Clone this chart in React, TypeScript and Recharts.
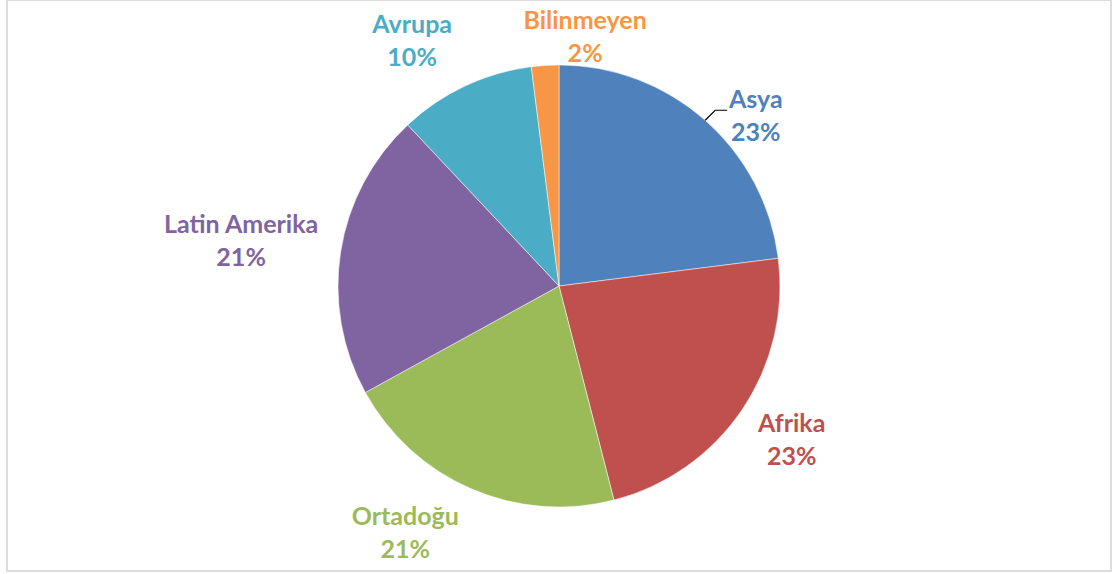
import React from 'react';
import { PieChart, Pie, Cell } from 'recharts';

const regions = ['Asya', 'Afrika', 'Ortadoğu', 'Latin Amerika', 'Avrupa', 'Bilinmeyen'];
const shares = [23, 23, 21, 21, 10, 2];
const colors = ['#4F81BD', '#C0504D', '#9BBB59', '#8064A2', '#4BACC6', '#F79646'];

// label placement, Excel style "best fit": distance from centre + angle nudge
const labelRadius = [260, 279, 291, 321, 286, 250];
const labelShift = [-7.8, 0.7, -8.5, 1, 5.7, -9.6];

const data = regions.map((name, i) => ({ name, value: shares[i] }));

const RAD = Math.PI / 180;

const renderLabel = (props: any) => {
    const { cx, cy, midAngle, outerRadius, percent, index } = props;
    const a = (midAngle + labelShift[index]) * RAD;
    const x = cx + labelRadius[index] * Math.cos(a);
    const y = cy - labelRadius[index] * Math.sin(a);
    const color = colors[index];

    let leader = null;
    if (index === 0) {
        // short elbow leader for Asya
        const sx = cx + outerRadius * Math.cos(midAngle * RAD);
        const sy = cy - outerRadius * Math.sin(midAngle * RAD);
        leader = (
            <polyline
                points={`${sx},${sy} ${sx + 10},${sy - 10} ${sx + 22},${sy - 10}`}
                fill="none"
                stroke="#000"
                strokeWidth={1.2}
            />
        );
    }

    return (
        <g>
            {leader}
            <text
                x={x}
                y={y}
                textAnchor="middle"
                fill={color}
                style={{ fontFamily: 'Lato, sans-serif', fontWeight: 700, fontSize: 25 }}
            >
                <tspan x={x} y={y - 8}>{regions[index]}</tspan>
                <tspan x={x} y={y + 25}>{Math.round(percent * 100)}%</tspan>
            </text>
        </g>
    );
};

const App: React.FC = () => {
    return (
        <div style={{ position: 'absolute', left: 0, top: 0, width: 1115, height: 574, background: '#fff' }}>
            <div
                style={{
                    position: 'absolute',
                    left: 6,
                    top: 0,
                    width: 1106,
                    height: 572,
                    border: '2px solid #dddddd',
                    borderTopWidth: 1,
                    boxSizing: 'border-box',
                }}
            />
            <div style={{ position: 'absolute', left: 0, top: 0 }}>
                <PieChart width={1115} height={574} margin={{ top: 0, right: 0, bottom: 0, left: 0 }}>
                    <Pie
                        data={data}
                        dataKey="value"
                        nameKey="name"
                        cx={559}
                        cy={286}
                        outerRadius={221}
                        startAngle={90}
                        endAngle={-270}
                        stroke="#ffffff"
                        strokeWidth={0.5}
                        label={renderLabel}
                        labelLine={false}
                        isAnimationActive={false}
                    >
                        {data.map((d, i) => (
                            <Cell key={d.name} fill={colors[i]} />
                        ))}
                    </Pie>
                </PieChart>
            </div>
        </div>
    );
};

export default App;
